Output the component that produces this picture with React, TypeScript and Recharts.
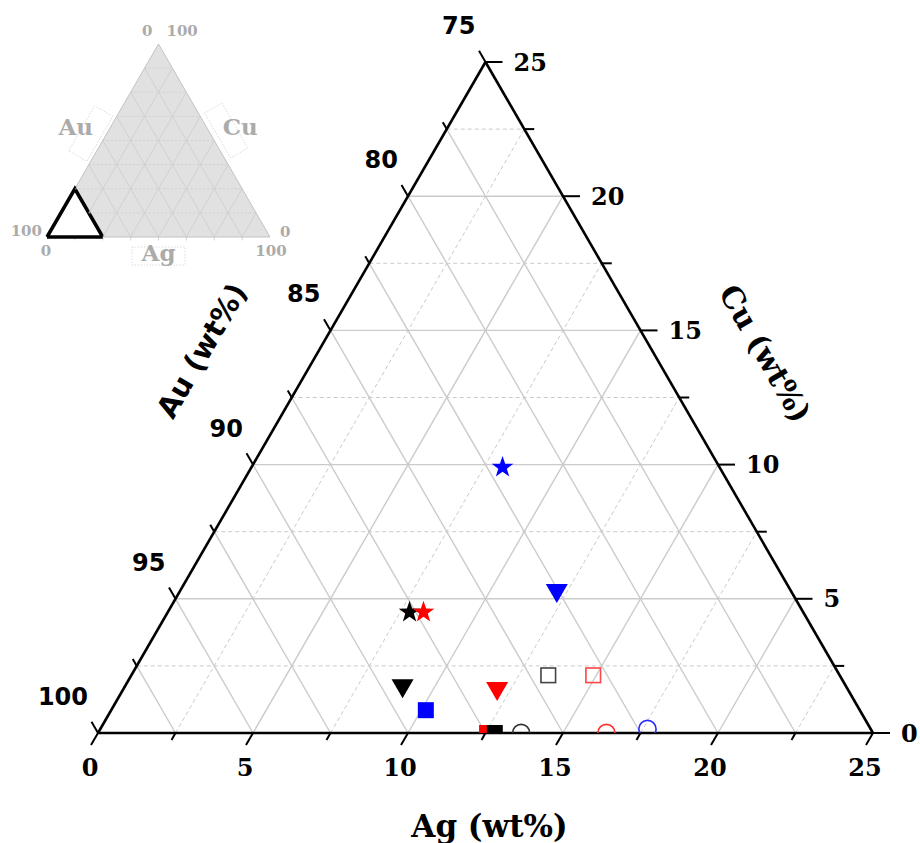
import React from 'react';
import {
  ScatterChart,
  ComposedChart,
  Scatter,
  Area,
  XAxis,
  YAxis,
  ReferenceLine,
  ReferenceDot,
} from 'recharts';

// ---------------------------------------------------------------------------
// Data
// ---------------------------------------------------------------------------

// Measured compositions in wt% (Au makes up the balance: Au = 100 - Ag - Cu)
const sampleAg = [8.1, 12.2, 7.8, 8.25, 9.0, 10.15, 12.1, 13.45, 14.9, 12.55, 12.8, 13.65, 16.4, 17.65];
const sampleCu = [9.9, 5.2, 4.5, 4.5, 1.65, 0.85, 1.55, 2.15, 2.15, 0, 0, 0, 0, 0.15];
const sampleMarker = [
  'star', 'triangle', 'star', 'star', 'triangle', 'square', 'triangle',
  'openSquare', 'openSquare', 'square', 'square', 'openCircle', 'openCircle', 'openCircle',
];
const sampleColor = [
  '#0000ff', '#0000ff', '#000000', '#ff0000', '#000000', '#0000ff', '#ff0000',
  '#444444', '#ff4545', '#ff0000', '#000000', '#333333', '#ff3030', '#2a2aff',
];

// Axis tick labels of the enlarged Au-rich corner (0-25 wt% Ag / Cu)
const agTickLabels = ['0', '5', '10', '15', '20', '25'];
const auTickLabels = ['100', '95', '90', '85', '80', '75'];
const cuTickLabels = ['0', '5', '10', '15', '20', '25'];
const minorTickValues = [2.5, 7.5, 12.5, 17.5, 22.5];
const gridLevels = [2.5, 5, 7.5, 10, 12.5, 15, 17.5, 20, 22.5];

// Overview triangle (0-100 %)
const overviewGridLevels = [12.5, 25, 37.5, 50, 62.5, 75, 87.5];
const overviewZoomSpan = 25;

// ---------------------------------------------------------------------------
// Geometry helpers
// ---------------------------------------------------------------------------

const H = Math.sqrt(3) / 2;
const SPAN = 25;

// Ternary composition (Ag, Cu) -> cartesian (x, y) with Au at the origin
const pt = (ag: number, cu: number) => ({ x: ag + cu / 2, y: cu * H });

const PAGE_W = 920;
const PAGE_H = 843;
const INSET = 8;
const MAIN_W = 912;
const MAIN_H = 835;
const MAIN_MARGIN = { top: 54, right: 47, bottom: 110, left: 90 };
const PLOT_W = MAIN_W - MAIN_MARGIN.left - MAIN_MARGIN.right; // 775
const PX = SPAN / PLOT_W; // data units per pixel

const SERIF = '"DejaVu Serif", serif';
const SANS = '"DejaVu Sans", sans-serif';

type Seg = { a: { x: number; y: number }; b: { x: number; y: number }; dashed?: boolean };

const gridLines: Seg[] = [];
gridLevels.forEach((v) => {
  const major = v % 5 === 0;
  gridLines.push({ a: pt(0, v), b: pt(SPAN - v, v), dashed: !major }); // Cu iso-line
  gridLines.push({ a: pt(v, 0), b: pt(v, SPAN - v), dashed: !major }); // Ag iso-line
  gridLines.push({ a: pt(v, 0), b: pt(0, v), dashed: false }); // Au iso-line
});

const edges: Seg[] = [
  { a: pt(0, 0), b: pt(SPAN, 0) },
  { a: pt(0, 0), b: pt(0, SPAN) },
  { a: pt(SPAN, 0), b: pt(0, SPAN) },
];

const MAJOR_LEN = { ag: 14, au: 13, cu: 17 };
const MINOR_LEN = { ag: 8, au: 8, cu: 10 };

const ticks: Seg[] = [];
const addTicks = (v: number, major: boolean) => {
  const lAg = (major ? MAJOR_LEN.ag : MINOR_LEN.ag) * PX;
  const lAu = (major ? MAJOR_LEN.au : MINOR_LEN.au) * PX;
  const lCu = (major ? MAJOR_LEN.cu : MINOR_LEN.cu) * PX;
  // Ag axis (bottom): ticks run down-left
  const b = pt(v, 0);
  ticks.push({ a: b, b: { x: b.x - 0.5 * lAg, y: b.y - H * lAg } });
  // Au axis (left): ticks run up-left
  const l = pt(0, v);
  ticks.push({ a: l, b: { x: l.x - 0.5 * lAu, y: l.y + H * lAu } });
  // Cu axis (right): ticks run to the right
  const r = pt(SPAN - v, v);
  ticks.push({ a: r, b: { x: r.x + lCu, y: r.y } });
};
agTickLabels.forEach((t) => addTicks(Number(t), true));
minorTickValues.forEach((v) => addTicks(v, false));

// ---------------------------------------------------------------------------
// Marker shapes
// ---------------------------------------------------------------------------

const starPath = (cx: number, cy: number, R: number, r: number) => {
  let d = '';
  for (let i = 0; i < 10; i++) {
    const rad = i % 2 === 0 ? R : r;
    const ang = -Math.PI / 2 + (i * Math.PI) / 5;
    d += `${i === 0 ? 'M' : 'L'}${cx + rad * Math.cos(ang)},${cy + rad * Math.sin(ang)}`;
  }
  return d + 'Z';
};

const markerShape = (kind: string, color: string) => (p: any) => {
  const { cx, cy } = p;
  if (cx == null || cy == null) return <g />;
  switch (kind) {
    case 'star':
      return <path d={starPath(cx, cy, 11.4, 4.5)} fill={color} />;
    case 'triangle':
      return <path d={`M${cx - 11},${cy - 9.5}L${cx + 11},${cy - 9.5}L${cx},${cy + 9.5}Z`} fill={color} />;
    case 'square':
      return <rect x={cx - 8} y={cy - 8} width={16} height={16} fill={color} />;
    case 'openSquare':
      return (
        <rect x={cx - 7.3} y={cy - 7.3} width={14.6} height={14.6} fill="none" stroke={color} strokeWidth={1.6} />
      );
    case 'openCircle':
    default:
      return <circle cx={cx} cy={cy} r={8.6} fill="none" stroke={color} strokeWidth={1.6} />;
  }
};

const samples = sampleAg.map((ag, i) => ({
  ...pt(ag, sampleCu[i]),
  au: 100 - ag - sampleCu[i],
  marker: sampleMarker[i],
  color: sampleColor[i],
}));

// ---------------------------------------------------------------------------
// Text shapes for ReferenceDot
// ---------------------------------------------------------------------------

type TextOpts = {
  dx: number;
  dy: number;
  anchor?: 'start' | 'middle' | 'end';
  size: number;
  family: string;
  color?: string;
  rotate?: number;
};

const textShape = (text: string, o: TextOpts) => (p: any) => {
  const x = p.cx + o.dx;
  const y = p.cy + o.dy;
  return (
    <text
      x={x}
      y={y}
      textAnchor={o.anchor ?? 'middle'}
      dominantBaseline="central"
      fontFamily={o.family}
      fontWeight="bold"
      fontSize={o.size}
      fill={o.color ?? '#000'}
      transform={o.rotate ? `rotate(${o.rotate} ${x} ${y})` : undefined}
    >
      {text}
    </text>
  );
};

// ---------------------------------------------------------------------------
// Overview (0-100 %) triangle
// ---------------------------------------------------------------------------

const overviewOutline = [
  { x: 0, y: 0 },
  { x: 50, y: 100 * H },
  { x: 100, y: 0 },
];
const zoomRegion = [
  { x: 0, y: 0 },
  { x: overviewZoomSpan / 2, y: overviewZoomSpan * H },
  { x: overviewZoomSpan, y: 0 },
];

const opt = (ag: number, cu: number) => ({ x: ag + cu / 2, y: cu * H });
const overviewGrid: Seg[] = [];
overviewGridLevels.forEach((v) => {
  const z = overviewZoomSpan;
  // Cu iso-line (horizontal), starting outside the zoomed region
  overviewGrid.push({ a: opt(Math.max(0, z - v), v), b: opt(100 - v, v), dashed: true });
  // Ag iso-line
  overviewGrid.push({ a: opt(v, Math.max(0, z - v)), b: opt(v, 100 - v) });
  // Au iso-line
  if (v > z) overviewGrid.push({ a: opt(v, 0), b: opt(0, v) });
});
const overviewBottomTicks = overviewGridLevels.map((v) => ({
  a: opt(v, 0),
  b: { x: v, y: -3.5 * (100 / 223) },
}));

const GREY_TEXT = '#ababab';

const frameShape = (w: number, h: number, rot: number, dx: number, dy: number) => (p: any) => {
  const x = p.cx + dx;
  const y = p.cy + dy;
  return (
    <rect
      x={x - w / 2}
      y={y - h / 2}
      width={w}
      height={h}
      fill="none"
      stroke="#d4d4d4"
      strokeWidth={0.8}
      strokeDasharray="1.5 1.5"
      transform={`rotate(${rot} ${x} ${y})`}
    />
  );
};

const Overview = () => (
  <ComposedChart width={300} height={270} margin={{ top: 36, right: 38, bottom: 41, left: 39 }}>
    <XAxis type="number" dataKey="x" domain={[0, 100]} hide />
    <YAxis type="number" domain={[0, 100 * H]} hide />
    <Area
      data={overviewOutline}
      dataKey="y"
      type="linear"
      fill="#e1e1e1"
      fillOpacity={1}
      stroke="#c2c2c2"
      strokeWidth={1}
      isAnimationActive={false}
    />
    {overviewGrid.map((s, i) => (
      <ReferenceLine
        key={`og${i}`}
        segment={[s.a, s.b]}
        stroke="#cbcbcb"
        strokeWidth={0.8}
        strokeDasharray={s.dashed ? '2 2' : undefined}
        ifOverflow="visible"
      />
    ))}
    <ReferenceLine segment={[opt(0, 0), opt(100, 0)]} stroke="#c2c2c2" strokeWidth={1} ifOverflow="visible" />
    {overviewBottomTicks.map((s, i) => (
      <ReferenceLine key={`ot${i}`} segment={[s.a, s.b]} stroke="#c8c8c8" strokeWidth={0.8} ifOverflow="visible" />
    ))}
    <Area
      data={zoomRegion}
      dataKey="y"
      type="linear"
      fill="#ffffff"
      fillOpacity={1}
      stroke="#000"
      strokeWidth={3.5}
      strokeLinejoin="miter"
      isAnimationActive={false}
    />
    <ReferenceLine segment={[opt(0, 0), opt(overviewZoomSpan, 0)]} stroke="#000" strokeWidth={3.5} ifOverflow="visible" />

    {/* corner labels */}
    <ReferenceDot x={50} y={100 * H} r={0} ifOverflow="visible"
      shape={textShape('0', { dx: -6, dy: -13, anchor: 'end', size: 15, family: SERIF, color: GREY_TEXT })} />
    <ReferenceDot x={50} y={100 * H} r={0} ifOverflow="visible"
      shape={textShape('100', { dx: 8, dy: -13, anchor: 'start', size: 15, family: SERIF, color: GREY_TEXT })} />
    <ReferenceDot x={0} y={0} r={0} ifOverflow="visible"
      shape={textShape('100', { dx: -5, dy: -6, anchor: 'end', size: 15, family: SERIF, color: GREY_TEXT })} />
    <ReferenceDot x={0} y={0} r={0} ifOverflow="visible"
      shape={textShape('0', { dx: -1, dy: 14, anchor: 'middle', size: 15, family: SERIF, color: GREY_TEXT })} />
    <ReferenceDot x={100} y={0} r={0} ifOverflow="visible"
      shape={textShape('0', { dx: 10, dy: -5, anchor: 'start', size: 15, family: SERIF, color: GREY_TEXT })} />
    <ReferenceDot x={100} y={0} r={0} ifOverflow="visible"
      shape={textShape('100', { dx: 1, dy: 14, anchor: 'middle', size: 15, family: SERIF, color: GREY_TEXT })} />

    {/* component names */}
    <ReferenceDot x={25} y={50 * H} r={0} ifOverflow="visible" shape={frameShape(52, 21, -60, -12, -7)} />
    <ReferenceDot x={25} y={50 * H} r={0} ifOverflow="visible"
      shape={textShape('Au', { dx: -27, dy: -14, size: 23, family: SERIF, color: GREY_TEXT })} />
    <ReferenceDot x={75} y={50 * H} r={0} ifOverflow="visible" shape={frameShape(52, 20, 60, 12, -10)} />
    <ReferenceDot x={75} y={50 * H} r={0} ifOverflow="visible"
      shape={textShape('Cu', { dx: 26, dy: -14, size: 23, family: SERIF, color: GREY_TEXT })} />
    <ReferenceDot x={50} y={0} r={0} ifOverflow="visible" shape={frameShape(53, 18, 0, 0, 19)} />
    <ReferenceDot x={50} y={0} r={0} ifOverflow="visible"
      shape={textShape('Ag', { dx: 0, dy: 15, size: 23, family: SERIF, color: GREY_TEXT })} />
  </ComposedChart>
);

// ---------------------------------------------------------------------------
// Main chart
// ---------------------------------------------------------------------------

export default function App() {
  return (
    <div
      style={{
        position: 'relative',
        width: PAGE_W,
        height: PAGE_H,
        boxSizing: 'border-box',
        paddingLeft: INSET,
        paddingTop: INSET,
        background: '#fff',
      }}
    >
      {/* the figure spans the full window, so drop the default body margin */}
      <style>{'body { margin: 0; }'}</style>
      <ScatterChart width={MAIN_W} height={MAIN_H} margin={MAIN_MARGIN}>
        <XAxis type="number" dataKey="x" domain={[0, SPAN]} hide />
        <YAxis type="number" dataKey="y" domain={[0, SPAN * H]} hide allowDataOverflow />

        {gridLines.map((s, i) => (
          <ReferenceLine
            key={`g${i}`}
            segment={[s.a, s.b]}
            stroke={s.dashed ? '#cacaca' : '#cbcbcb'}
            strokeWidth={s.dashed ? 1 : 1.4}
            strokeDasharray={s.dashed ? '4 3' : undefined}
            ifOverflow="visible"
          />
        ))}

        {ticks.map((s, i) => (
          <ReferenceLine key={`t${i}`} segment={[s.a, s.b]} stroke="#000" strokeWidth={2} ifOverflow="visible" />
        ))}

        {edges.map((s, i) => (
          <ReferenceLine key={`e${i}`} segment={[s.a, s.b]} stroke="#000" strokeWidth={2.6} ifOverflow="visible" />
        ))}

        {agTickLabels.map((t) => {
          const p = pt(Number(t), 0);
          return (
            <ReferenceDot key={`la${t}`} x={p.x} y={p.y} r={0} ifOverflow="visible"
              shape={textShape(t, { dx: -8, dy: 34, anchor: 'middle', size: 24, family: SERIF })} />
          );
        })}
        {auTickLabels.map((t) => {
          const p = pt(0, 100 - Number(t));
          return (
            <ReferenceDot key={`lu${t}`} x={p.x} y={p.y} r={0} ifOverflow="visible"
              shape={textShape(t, { dx: -10, dy: -36, anchor: 'end', size: 24, family: SANS })} />
          );
        })}
        {cuTickLabels.map((t) => {
          const p = pt(SPAN - Number(t), Number(t));
          return (
            <ReferenceDot key={`lc${t}`} x={p.x} y={p.y} r={0} ifOverflow="visible"
              shape={textShape(t, { dx: 28, dy: 0, anchor: 'start', size: 24, family: SERIF })} />
          );
        })}

        {/* axis titles */}
        <ReferenceDot x={pt(SPAN / 2, 0).x} y={0} r={0} ifOverflow="visible"
          shape={textShape('Ag (wt%)', { dx: 4, dy: 93, size: 31, family: SERIF })} />
        <ReferenceDot x={pt(0, SPAN / 2).x} y={pt(0, SPAN / 2).y} r={0} ifOverflow="visible"
          shape={textShape('Au (wt%)', { dx: -90, dy: -47, size: 29, family: SANS, rotate: -60 })} />
        <ReferenceDot x={pt(SPAN / 2, SPAN / 2).x} y={pt(SPAN / 2, SPAN / 2).y} r={0} ifOverflow="visible"
          shape={textShape('Cu (wt%)', { dx: 86, dy: -44, size: 30, family: SERIF, rotate: 60 })} />

        {samples.map((s, i) => (
          <Scatter
            key={`s${i}`}
            data={[s]}
            shape={markerShape(s.marker, s.color)}
            isAnimationActive={false}
          />
        ))}
      </ScatterChart>
      <div style={{ position: 'absolute', left: INSET, top: INSET }}>
        <Overview />
      </div>
    </div>
  );
}
